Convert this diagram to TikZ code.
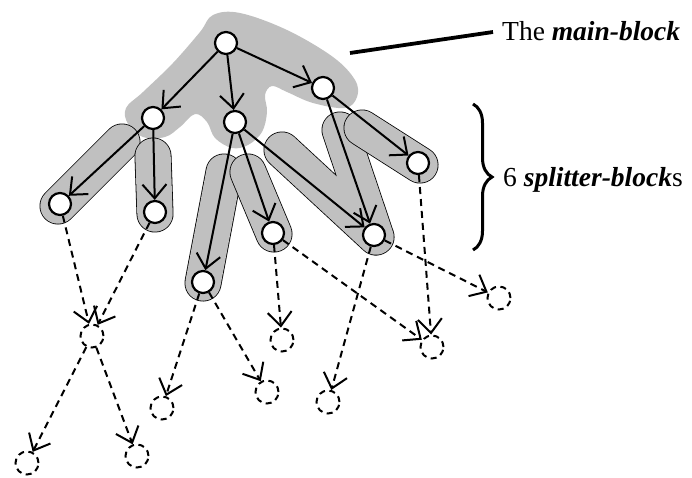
\documentclass[tikz,border=0pt]{standalone}
\usepackage{fontspec}
\setmainfont{Liberation Serif}
\usetikzlibrary{arrows.meta,decorations.pathreplacing}
\definecolor{blockgray}{RGB}{192,192,192}

\begin{document}
\begin{tikzpicture}[x=1pt,y=-1pt,
  vertex/.style={circle, draw, line width=2.2pt, fill=white, minimum size=22pt, inner sep=0pt},
  ghost/.style={circle, draw, dash pattern=on 6pt off 4.5pt, line width=2pt, minimum size=23pt, inner sep=0pt},
  edge/.style={line width=2pt, -{Straight Barb[length=14pt,width=24pt]}},
  dedge/.style={edge, dash pattern=on 7pt off 5pt},
  capsule rim/.style={line width=37pt, line cap=round, line join=round, draw=black},
  capsule body/.style={line width=35.4pt, line cap=round, line join=round, draw=blockgray},
  label/.style={anchor=base west, inner sep=0pt, font=\fontsize{27.5}{33}\selectfont},
]
\useasboundingbox (0,0) rectangle (692,477);

% the main-block region
\fill[blockgray] plot[smooth cycle, tension=0.6] coordinates {
  (213,15) (240,13) (287,30) (333,57) (355,80) (357,97) (345,108)
  (313,103) (287,92) (272,86) (265,95) (267,112) (262,132) (248,145)
  (232,148) (215,138) (207,122) (195,114) (180,127) (165,137) (143,137)
  (128,124) (126,108) (143,92) (173,63) (200,32)};

% splitter-block capsules
\coordinate (s1a) at (122,142); \coordinate (s1b) at (58,206);
\coordinate (s2a) at (153,156); \coordinate (s2b) at (155,214);
\coordinate (s3a) at (224,172); \coordinate (s3b) at (203,283);
\coordinate (s4a) at (248,172); \coordinate (s4b) at (274,234);
\coordinate (s5a) at (282,150); \coordinate (s5b) at (376,237); \coordinate (s5c) at (340,130);
\coordinate (s6a) at (362,128); \coordinate (s6b) at (420,165);

\draw[capsule rim] (s1a) -- (s1b); \draw[capsule body] (s1a) -- (s1b);
\draw[capsule rim] (s2a) -- (s2b); \draw[capsule body] (s2a) -- (s2b);
\draw[capsule rim] (s3a) -- (s3b); \draw[capsule body] (s3a) -- (s3b);
\draw[capsule rim] (s4a) -- (s4b); \draw[capsule body] (s4a) -- (s4b);
\draw[capsule rim] (s5a) -- (s5b) -- (s5c); \draw[capsule body] (s5a) -- (s5b) -- (s5c);
\draw[capsule rim] (s6a) -- (s6b); \draw[capsule body] (s6a) -- (s6b);

% tree vertices
\node[vertex] (r)  at (226,43)  {};
\node[vertex] (a)  at (153,118) {};
\node[vertex] (b)  at (235,122) {};
\node[vertex] (c)  at (323,88)  {};
\node[vertex] (a1) at (60,204)  {};
\node[vertex] (a2) at (155,212) {};
\node[vertex] (b1) at (203,282) {};
\node[vertex] (b2) at (273,233) {};
\node[vertex] (x)  at (374,235) {};
\node[vertex] (c2) at (418,163) {};

% not-yet-visited vertices
\node[ghost] (d1) at (92,336)  {};
\node[ghost] (e1) at (27,463)  {};
\node[ghost] (e2) at (137,456) {};
\node[ghost] (f1) at (162,408) {};
\node[ghost] (f2) at (267,392) {};
\node[ghost] (g1) at (282,340) {};
\node[ghost] (h)  at (432,347) {};
\node[ghost] (i)  at (328,402) {};
\node[ghost] (j)  at (499,298) {};

% solid edges
\draw[edge] (r) -- (a);
\draw[edge] (r) -- (b);
\draw[edge] (r) -- (c);
\draw[edge] (a) -- (a1);
\draw[edge] (a) -- (a2);
\draw[edge] (b) -- (b1);
\draw[edge] (b) -- (b2);
\draw[edge] (b) -- (x);
\draw[edge] (c) -- (x);
\draw[edge] (c) -- (c2);

% dashed edges
\draw[dedge] (a1) -- (d1);
\draw[dedge] (a2) -- (d1);
\draw[dedge] (d1) -- (e1);
\draw[dedge] (d1) -- (e2);
\draw[dedge] (b1) -- (f1);
\draw[dedge] (b1) -- (f2);
\draw[dedge] (b2) -- (g1);
\draw[dedge] (b2) -- (h);
\draw[dedge] (x) -- (i);
\draw[dedge] (x) -- (j);
\draw[dedge] (c2) -- (h);

% annotations
\node[label] (lmain) at (502,40) {The \textbf{\textit{main-block}}};
\node[label] (lsplit) at (503,186) {6 \textbf{\textit{splitter-block}}s};
\coordinate (ptrA) at (350,53);
\coordinate (ptrB) at (493,32);
\draw[line width=3.8pt] (ptrA) -- (ptrB);
\coordinate (brA) at (473,104);
\coordinate (brB) at (473,250);
\draw[line width=3pt, decorate, decoration={brace, amplitude=19pt}] (brA) -- (brB);
\end{tikzpicture}
\end{document}
